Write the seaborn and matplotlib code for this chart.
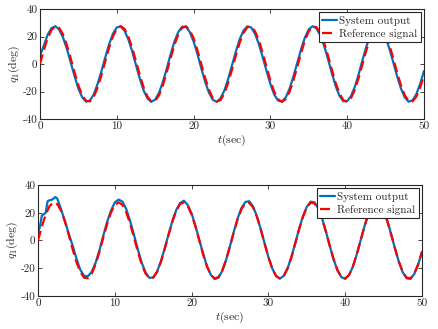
import numpy as np
import pandas as pd
import matplotlib
matplotlib.use("Agg")
import matplotlib.pyplot as plt
import seaborn as sns

# ---------------- data ----------------
t_ref = [i * 0.5 for i in range(101)]
ref_signal = [0.0, 10.05, 18.71, 24.77, 27.42, 26.28, 21.50, 13.75, 4.10, -6.12,
              -15.49, -22.72, -26.81, -27.19, -23.82, -17.15, -8.10, 2.06, 11.93, 20.16,
              25.60, 27.5, 25.60, 20.16, 11.93, 2.06, -8.10, -17.15, -23.82, -27.19,
              -26.81, -22.72, -15.49, -6.12, 4.10, 13.75, 21.50, 26.28, 27.42, 24.77,
              18.71, 10.05, 0.0, -10.05, -18.71, -24.77, -27.42, -26.28, -21.50, -13.75,
              -4.10, 6.12, 15.49, 22.72, 26.81, 27.19, 23.82, 17.15, 8.10, -2.06,
              -11.93, -20.16, -25.60, -27.5, -25.60, -20.16, -11.93, -2.06, 8.10, 17.15,
              23.82, 27.19, 26.81, 22.72, 15.49, 6.12, -4.10, -13.75, -21.50, -26.28,
              -27.42, -24.77, -18.71, -10.05, 0.0, 10.05, 18.71, 24.77, 27.42, 26.28,
              21.50, 13.75, 4.10, -6.12, -15.49, -22.72, -26.81, -27.19, -23.82, -17.15,
              -8.10]

sys_out_1 = [6.0, 13.5, 21.3, 26.1, 27.5, 25.0, 19.3, 11.0, 1.2, -8.8,
             -17.9, -24.2, -27.4, -26.5, -22.2, -14.5, -5.3, 4.8, 14.4, 22.0,
             26.6, 27.3, 24.3, 18.0, 9.3, -0.8, -10.7, -19.3, -25.1, -27.5,
             -25.9, -20.9, -13.1, -3.4, 6.9, 16.2, 23.2, 27.1, 27.1, 23.3,
             16.4, 7.3, -3.1, -12.8, -20.8, -26.0, -27.5, -25.1, -19.4, -11.0,
             -1.0, 9.0, 18.0, 24.3, 27.4, 26.6, 22.0, 14.5, 5.0, -5.1,
             -14.5, -22.2, -26.6, -27.3, -24.3, -17.9, -9.1, 0.9, 10.8, 19.3,
             25.2, 27.5, 25.9, 21.0, 13.2, 3.6, -6.6, -16.1, -23.2, -27.1,
             -27.0, -23.3, -16.5, -7.4, 3.0, 12.8, 20.8, 26.0, 27.5, 25.1,
             19.5, 11.1, 1.3, -8.8, -17.8, -24.3, -27.4, -26.5, -22.0, -14.5,
             -5.1]

t_sys2 = [0.0, 0.25, 0.5, 0.75, 1.0, 1.25, 1.5, 1.75, 2.0, 2.25, 2.5, 3.0, 3.5, 4.0,
          4.5, 5.0, 5.5, 6.0, 6.5, 7.0, 7.5, 8.0, 8.5, 9.0, 9.5, 10.0, 10.5, 11.0,
          11.5, 12.0, 12.5, 13.0, 13.5, 14.0, 14.5, 15.0, 15.5, 16.0, 16.5, 17.0,
          17.5, 18.0, 18.5, 19.0, 19.5, 20.0, 20.5, 21.0, 21.5, 22.0, 22.5, 23.0,
          23.5, 24.0, 24.5, 25.0, 25.5, 26.0, 26.5, 27.0, 27.5, 28.0, 28.5, 29.0,
          29.5, 30.0, 30.5, 31.0, 31.5, 32.0, 32.5, 33.0, 33.5, 34.0, 34.5, 35.0,
          35.5, 36.0, 36.5, 37.0, 37.5, 38.0, 38.5, 39.0, 39.5, 40.0, 40.5, 41.0,
          41.5, 42.0, 42.5, 43.0, 43.5, 44.0, 44.5, 45.0, 45.5, 46.0, 46.5, 47.0,
          47.5, 48.0, 48.5, 49.0, 49.5, 50.0]
sys_out_2 = [5.0, 10.0, 18.0, 18.8, 20.0, 28.3, 29.0, 29.2, 30.2, 31.3, 30.3, 22.5,
             14.0, 5.0, -3.5, -13.0, -21.0, -25.5, -25.8, -22.5, -16.0, -7.0, 3.5,
             13.5, 21.5, 27.5, 29.5, 28.0, 22.5, 14.0, 4.0, -6.5, -16.0, -23.0,
             -27.0, -26.5, -22.5, -15.0, -5.5, 4.5, 14.0, 22.0, 27.0, 28.7, 25.5,
             19.5, 10.5, 0.5, -9.5, -18.5, -24.8, -27.8, -26.8, -21.8, -13.8, -4.0,
             6.5, 16.0, 23.5, 27.8, 28.3, 24.5, 17.5, 8.2, -2.0, -12.0, -20.2,
             -25.6, -27.4, -25.5, -20.0, -11.8, -1.8, 8.5, 17.5, 24.3, 28.0, 27.5,
             23.0, 15.7, 6.2, -4.1, -13.8, -21.6, -26.4, -27.6, -25.0, -18.9, -10.1,
             0.0, 10.1, 18.8, 24.9, 27.6, 26.4, 21.6, 13.8, 4.1, -6.2, -15.6, -23.0,
             -27.3, -27.7, -24.0, -17.3, -8.2]

x_ticks = [0, 10, 20, 30, 40, 50]
y_ticks = [-40, -20, 0, 20, 40]
y_tick_labels = ["-40", "-20", "0", "20", "40"]
series_names = ["System output", "Reference signal"]
y_label = r"$q_1\mathrm{(deg)}$"
x_label = r"$t\mathrm{(sec)}$"

# ---------------- style ----------------
sns.set_style("ticks")
plt.rcParams["font.family"] = ["cmr10", "DejaVu Serif"]
plt.rcParams["mathtext.fontset"] = "cm"
plt.rcParams["axes.unicode_minus"] = False
plt.rcParams["axes.formatter.use_mathtext"] = True

blue = "#0072BD"
red = "#FF0000"

fig = plt.figure(figsize=(4.39, 3.29), dpi=100)
ax1 = fig.add_axes([0.0911, 0.6383, 0.8747, 0.3343])
ax2 = fig.add_axes([0.0866, 0.1003, 0.8747, 0.3374])

panels = [
    (ax1, t_ref, sys_out_1, t_ref, ref_signal),
    (ax2, t_sys2, sys_out_2, t_ref, ref_signal),
]

for ax, ts, ys, tr, yr in panels:
    df_s = pd.DataFrame({"t": ts, "q": ys})
    df_r = pd.DataFrame({"t": tr, "q": yr})
    sns.lineplot(data=df_s, x="t", y="q", ax=ax, color=blue, linewidth=1.6,
                 label=series_names[0], zorder=2)
    sns.lineplot(data=df_r, x="t", y="q", ax=ax, color=red, linewidth=1.6,
                 linestyle=(0, (4.5, 2.2)), label=series_names[1], zorder=3)
    ax.set_xlim(0, 50)
    ax.set_ylim(-40, 40)
    ax.set_xticks(x_ticks)
    ax.set_xticklabels([str(v) for v in x_ticks])
    ax.set_yticks(y_ticks)
    ax.set_yticklabels(y_tick_labels)
    ax.tick_params(direction="in", length=3, width=0.6, labelsize=8,
                   top=True, right=True, colors="#262626", labelcolor="#262626", pad=2)
    for sp in ax.spines.values():
        sp.set_visible(True)
        sp.set_linewidth(0.8)
        sp.set_color("#262626")
    ax.set_xlabel(x_label, fontsize=8.5, labelpad=1, color="#262626")
    ax.set_ylabel(y_label, fontsize=8.5, labelpad=0, color="#262626")
    leg = ax.legend(loc="upper right", fontsize=8, frameon=True, fancybox=False,
                    edgecolor="#262626", framealpha=1, borderpad=0.3,
                    handlelength=1.4, handletextpad=0.15, labelspacing=0.3,
                    borderaxespad=0.3)
    leg.get_frame().set_linewidth(0.8)

fig.savefig("out.png", dpi=100)
